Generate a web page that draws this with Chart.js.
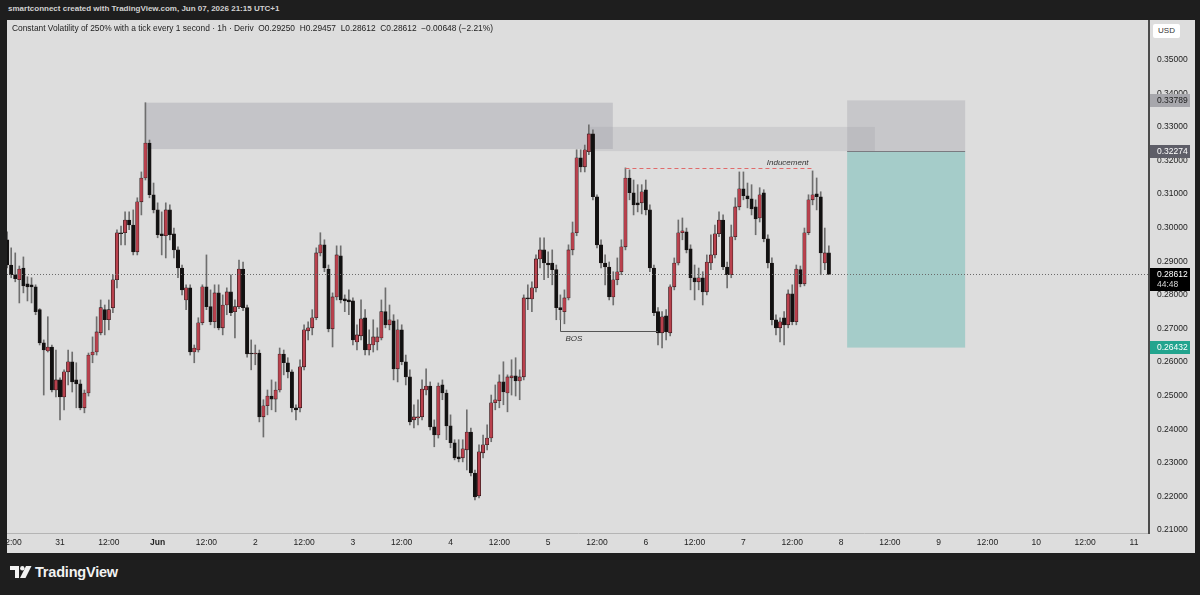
<!DOCTYPE html>
<html>
<head>
<meta charset="utf-8">
<script src="https://cdn.jsdelivr.net/npm/chart.js@4.4.1/dist/chart.umd.min.js"></script>
<style>
html, body { margin: 0; padding: 0; width: 1200px; height: 595px; overflow: hidden; background: #1e1e1e; font-family: "Liberation Sans", Arial, sans-serif; }
#top { position: absolute; left: 8px; top: 4px; color: #d2d2d2; font-size: 8px; font-weight: bold; white-space: nowrap; }
#wrap { position: absolute; left: 7px; top: 20px; width: 1188px; height: 533px; background: #dddddd; }
#legend { position: absolute; left: 12px; top: 23px; color: #222; font-size: 8.4px; white-space: nowrap; }
#usd { position: absolute; left: 1153px; top: 24px; width: 27px; height: 14px; line-height: 14px; background: #fff; color: #333; font-size: 8px; text-align: center; border-radius: 2px; }
#logo { position: absolute; left: 10px; top: 566px; }
#brand { position: absolute; left: 35px; top: 564px; color: #f2f2f2; font-size: 14.5px; font-weight: bold; letter-spacing: -0.2px; }
</style>
</head>
<body>
<div id="top">smartconnect created with TradingView.com, Jun 07, 2026 21:15 UTC+1</div>
<div id="wrap"><canvas id="chart" width="1188" height="533"></canvas></div>
<div id="legend">Constant Volatility of 250% with a tick every 1 second · 1h · Deriv&nbsp;&nbsp;O0.29250&nbsp;&nbsp;H0.29457&nbsp;&nbsp;L0.28612&nbsp;&nbsp;C0.28612&nbsp;&nbsp;−0.00648 (−2.21%)</div>
<div id="usd">USD</div>
<svg id="logo" width="24" height="14" viewBox="0 0 24 14">
  <path d="M0 0 H9 V12 H5 V4 H0 Z" fill="#f2f2f2"/>
  <circle cx="12.3" cy="2.2" r="2.2" fill="#f2f2f2"/>
  <polygon points="16,0 21.5,0 15.5,12 10,12" fill="#f2f2f2"/>
</svg>
<div id="brand">TradingView</div>
<script>
// Свечи 1h, первая свеча: 30 мая 11:00 (часы от 31 мая 00:00)
const firstHour = -13;

const openPrices = [
  0.2964,0.2889,0.2860,0.2845,0.2880,0.2833,0.2830,0.2824,0.2756,0.2657,
  0.2633,0.2645,0.2517,0.2547,0.2496,0.2571,0.2601,0.2547,0.2535,0.2464,
  0.2508,0.2621,0.2630,0.2687,0.2756,0.2726,0.2762,0.2845,0.2985,0.2985,
  0.3023,0.3008,0.2928,0.3077,0.3148,0.3252,0.3098,0.3053,0.2982,0.2976,
  0.3053,0.2982,0.2934,0.2880,0.2785,0.2821,0.2630,0.2636,0.2717,0.2824,
  0.2765,0.2720,0.2806,0.2702,0.2770,0.2809,0.2750,0.2765,0.2877,0.2762,
  0.2627,0.2624,0.2627,0.2437,0.2470,0.2499,0.2490,0.2517,0.2624,0.2598,
  0.2571,0.2464,0.2464,0.2586,0.2693,0.2702,0.2732,0.2925,0.2949,0.2877,
  0.2699,0.2794,0.2916,0.2788,0.2785,0.2782,0.2660,0.2678,0.2732,0.2636,
  0.2651,0.2660,0.2672,0.2750,0.2711,0.2723,0.2580,0.2696,0.2601,0.2556,
  0.2428,0.2434,0.2437,0.2517,0.2529,0.2407,0.2383,0.2532,0.2508,0.2410,
  0.2360,0.2318,0.2315,0.2339,0.2392,0.2270,0.2202,0.2330,0.2354,0.2374,
  0.2479,0.2485,0.2541,0.2508,0.2553,0.2559,0.2544,0.2556,0.2791,0.2788,
  0.2821,0.2907,0.2934,0.2895,0.2895,0.2875,0.2762,0.2750,0.2791,0.2934,
  0.2985,0.3208,0.3181,0.3226,0.3279,0.3092,0.2949,0.2895,0.2883,0.2794,
  0.2845,0.2869,0.2943,0.3148,0.3104,0.3074,0.3074,0.3113,0.3053,0.2880,
  0.2750,0.2687,0.2738,0.2687,0.2824,0.2895,0.2985,0.2988,0.2937,0.2851,
  0.2839,0.2851,0.2809,0.2895,0.2919,0.2982,0.3023,0.2883,0.2860,0.2973,
  0.3062,0.3116,0.3095,0.3086,0.3062,0.3029,0.3104,0.2967,0.2895,0.2726,
  0.2702,0.2732,0.2711,0.2803,0.2720,0.2875,0.2833,0.2985,0.3083,0.3101,
  0.3092,0.2895,0.2925
];
const highPrices = [
  0.2988,0.2940,0.2925,0.2886,0.2913,0.2854,0.2851,0.2830,0.2759,0.2666,
  0.2735,0.2651,0.2636,0.2553,0.2577,0.2636,0.2630,0.2598,0.2547,0.2517,
  0.2627,0.2675,0.2735,0.2785,0.2770,0.2785,0.2860,0.2994,0.3005,0.3047,
  0.3047,0.3053,0.3089,0.3166,0.3372,0.3261,0.3133,0.3074,0.3047,0.3074,
  0.3068,0.2999,0.2943,0.2889,0.2830,0.2830,0.2651,0.2732,0.2830,0.2919,
  0.2815,0.2830,0.2830,0.2800,0.2821,0.2860,0.2785,0.2904,0.2898,0.2770,
  0.2666,0.2651,0.2636,0.2488,0.2517,0.2547,0.2541,0.2642,0.2636,0.2613,
  0.2577,0.2473,0.2607,0.2711,0.2720,0.2756,0.2940,0.2985,0.2964,0.2889,
  0.2806,0.2946,0.2946,0.2800,0.2815,0.2791,0.2711,0.2785,0.2756,0.2696,
  0.2726,0.2702,0.2785,0.2821,0.2770,0.2741,0.2726,0.2711,0.2621,0.2577,
  0.2473,0.2488,0.2547,0.2580,0.2541,0.2428,0.2538,0.2547,0.2517,0.2443,
  0.2369,0.2369,0.2369,0.2458,0.2404,0.2279,0.2354,0.2383,0.2413,0.2502,
  0.2532,0.2562,0.2601,0.2562,0.2607,0.2613,0.2577,0.2800,0.2830,0.2839,
  0.2919,0.2970,0.2970,0.2928,0.2934,0.2889,0.2800,0.2815,0.2949,0.3017,
  0.3232,0.3232,0.3246,0.3306,0.3291,0.3098,0.2964,0.2919,0.2898,0.2869,
  0.2910,0.2964,0.3178,0.3172,0.3142,0.3128,0.3128,0.3142,0.3068,0.2889,
  0.2762,0.2750,0.2756,0.2830,0.2910,0.3023,0.3029,0.2999,0.2949,0.2889,
  0.2880,0.2869,0.2919,0.2979,0.3008,0.3047,0.3038,0.2898,0.3008,0.3089,
  0.3166,0.3166,0.3133,0.3128,0.3083,0.3119,0.3113,0.2979,0.2910,0.2741,
  0.2732,0.2750,0.2815,0.2830,0.2889,0.2886,0.2999,0.3098,0.3169,0.3148,
  0.3107,0.2999,0.29457
];
const lowPrices = [
  0.2880,0.2851,0.2839,0.2776,0.2806,0.2782,0.2776,0.2741,0.2651,0.2502,
  0.2630,0.2511,0.2496,0.2428,0.2458,0.2532,0.2511,0.2464,0.2458,0.2449,
  0.2499,0.2598,0.2621,0.2681,0.2681,0.2696,0.2747,0.2821,0.2949,0.2949,
  0.2994,0.2919,0.2919,0.3038,0.3142,0.3089,0.3044,0.2970,0.2919,0.2910,
  0.2964,0.2910,0.2851,0.2800,0.2756,0.2621,0.2598,0.2630,0.2711,0.2756,
  0.2711,0.2702,0.2696,0.2681,0.2741,0.2738,0.2672,0.2759,0.2753,0.2615,
  0.2577,0.2592,0.2422,0.2377,0.2443,0.2458,0.2452,0.2511,0.2562,0.2553,
  0.2452,0.2428,0.2452,0.2577,0.2666,0.2681,0.2726,0.2916,0.2869,0.2690,
  0.2645,0.2785,0.2776,0.2750,0.2741,0.2651,0.2636,0.2666,0.2621,0.2621,
  0.2630,0.2636,0.2666,0.2702,0.2696,0.2547,0.2541,0.2592,0.2532,0.2413,
  0.2404,0.2413,0.2428,0.2502,0.2398,0.2348,0.2374,0.2488,0.2369,0.2345,
  0.2309,0.2303,0.2303,0.2279,0.2261,0.2190,0.2196,0.2315,0.2339,0.2363,
  0.2458,0.2464,0.2473,0.2452,0.2502,0.2499,0.2488,0.2547,0.2756,0.2750,
  0.2809,0.2880,0.2845,0.2851,0.2830,0.2726,0.2726,0.2714,0.2785,0.2919,
  0.2976,0.3166,0.3166,0.3217,0.3083,0.2940,0.2880,0.2830,0.2785,0.2770,
  0.2830,0.2860,0.2934,0.3083,0.3038,0.3047,0.3041,0.3038,0.2869,0.2738,
  0.2651,0.2642,0.2666,0.2678,0.2815,0.2889,0.2964,0.2925,0.2815,0.2785,
  0.2815,0.2770,0.2800,0.2875,0.2910,0.2973,0.2875,0.2821,0.2851,0.2964,
  0.3053,0.3083,0.3059,0.3038,0.2979,0.3017,0.2958,0.2880,0.2711,0.2681,
  0.2660,0.2651,0.2702,0.2711,0.2711,0.2824,0.2827,0.2979,0.3068,0.3053,
  0.2860,0.2875,0.28612
];
const closePrices = [
  0.2889,0.2860,0.2848,0.2877,0.2827,0.2824,0.2824,0.2750,0.2657,0.2636,
  0.2645,0.2517,0.2547,0.2496,0.2571,0.2601,0.2541,0.2535,0.2464,0.2508,
  0.2621,0.2630,0.2690,0.2762,0.2726,0.2756,0.2845,0.2985,0.2982,0.3023,
  0.3008,0.2928,0.3077,0.3148,0.3252,0.3098,0.3053,0.2979,0.2976,0.3053,
  0.2979,0.2934,0.2880,0.2815,0.2821,0.2630,0.2642,0.2717,0.2824,0.2765,
  0.2720,0.2806,0.2702,0.2770,0.2809,0.2747,0.2765,0.2877,0.2762,0.2624,
  0.2624,0.2627,0.2437,0.2470,0.2499,0.2490,0.2517,0.2624,0.2598,0.2571,
  0.2464,0.2458,0.2586,0.2696,0.2702,0.2732,0.2925,0.2949,0.2880,0.2699,
  0.2794,0.2919,0.2785,0.2782,0.2779,0.2666,0.2681,0.2729,0.2636,0.2654,
  0.2675,0.2675,0.2750,0.2711,0.2726,0.2580,0.2696,0.2601,0.2556,0.2422,
  0.2437,0.2437,0.2520,0.2529,0.2407,0.2383,0.2529,0.2508,0.2410,0.2360,
  0.2315,0.2312,0.2342,0.2392,0.2270,0.2199,0.2333,0.2354,0.2374,0.2479,
  0.2488,0.2541,0.2511,0.2556,0.2559,0.2544,0.2556,0.2791,0.2788,0.2821,
  0.2907,0.2934,0.2895,0.2889,0.2875,0.2762,0.2756,0.2791,0.2934,0.2985,
  0.3208,0.3181,0.3232,0.3279,0.3092,0.2949,0.2895,0.2883,0.2794,0.2845,
  0.2869,0.2943,0.3148,0.3104,0.3068,0.3068,0.3107,0.3053,0.2880,0.2747,
  0.2687,0.2735,0.2690,0.2824,0.2895,0.2985,0.2991,0.2934,0.2851,0.2839,
  0.2851,0.2809,0.2898,0.2919,0.2982,0.3023,0.2883,0.2860,0.2973,0.3062,
  0.3116,0.3095,0.3086,0.3056,0.3026,0.3098,0.2967,0.2895,0.2726,0.2702,
  0.2720,0.2711,0.2803,0.2720,0.2877,0.2833,0.2985,0.3083,0.3098,0.3092,
  0.2925,0.2925,0.28612
];

// Оси
const xTickHours = [-12,0,12,24,36,48,60,72,84,96,108,120,132,144,156,168,180,192,204,216,228,240,252,264];
const xTickLabels = ['12:00','31','12:00','Jun','12:00','2','12:00','3','12:00','4','12:00','5','12:00','6','12:00','7','12:00','8','12:00','9','12:00','10','12:00','11'];
const yTickValues = [0.21,0.22,0.23,0.24,0.25,0.26,0.27,0.28,0.29,0.30,0.31,0.32,0.33,0.34,0.35];

// Разметка: зоны [часСтарт, часКонец, верх, низ]
const supplyZones = [
  [20.9, 135.9, 0.3372, 0.3234],
  [130.3, 200.3, 0.3300, 0.3228]
];
// Позиция: часы и цены стоп / вход / цель
const positionHours = [193.5, 222.5];
const positionStop = 0.33789;
const positionEntry = 0.32274;
const positionTarget = 0.26432;
const lastPrice = 0.28612;
const lastCountdown = '44:48';
// Inducement: [часСтарт, часКонец, цена]
const inducementLine = [139, 185, 0.3178];
// BOS: [часСтарт, часКонец, цена, цена начала вертикали]
const bosLine = [123, 147, 0.2693, 0.2726];

const bodies = openPrices.map((o, i) => ({ x: firstHour + i, y: [o, closePrices[i]] }));
const wicks = openPrices.map((o, i) => ({ x: firstHour + i, y: [lowPrices[i], highPrices[i]] }));
const bodyColors = openPrices.map((o, i) => closePrices[i] >= o ? '#b9414d' : '#111111');

// убираем авто-отступы шкал, чтобы область графика шла от края до края
function noPadding(scale) {
  scale.paddingLeft = 0;
  scale.paddingRight = 0;
  scale.paddingTop = 0;
  scale.paddingBottom = 0;
}

const overlayPlugin = {
  id: 'overlay',
  beforeDatasetsDraw(chart) {
    const ctx = chart.ctx, xs = chart.scales.x, ys = chart.scales.y;
    ctx.save();
    const zoneFill = ['rgba(150,150,160,0.35)', 'rgba(150,150,160,0.22)'];
    supplyZones.forEach((z, i) => {
      const x0 = xs.getPixelForValue(z[0]), x1 = xs.getPixelForValue(z[1]);
      const y0 = ys.getPixelForValue(z[2]), y1 = ys.getPixelForValue(z[3]);
      ctx.fillStyle = zoneFill[i];
      ctx.fillRect(x0, y0, x1 - x0, y1 - y0);
    });
    // позиция
    const px0 = xs.getPixelForValue(positionHours[0]), px1 = xs.getPixelForValue(positionHours[1]);
    const yStop = ys.getPixelForValue(positionStop), yEntry = ys.getPixelForValue(positionEntry), yTarget = ys.getPixelForValue(positionTarget);
    ctx.fillStyle = 'rgba(150,150,160,0.3)';
    ctx.fillRect(px0, yStop, px1 - px0, yEntry - yStop);
    ctx.fillStyle = 'rgba(38,166,154,0.3)';
    ctx.fillRect(px0, yEntry, px1 - px0, yTarget - yEntry);
    ctx.strokeStyle = '#7a7a80';
    ctx.lineWidth = 1;
    ctx.beginPath();
    ctx.moveTo(px0, Math.round(yEntry) + 0.5);
    ctx.lineTo(px1, Math.round(yEntry) + 0.5);
    ctx.stroke();
    ctx.restore();
  },
  afterDatasetsDraw(chart) {
    const ctx = chart.ctx, xs = chart.scales.x, ys = chart.scales.y, area = chart.chartArea;
    ctx.save();
    // текущая цена
    const yLast = Math.round(ys.getPixelForValue(lastPrice)) + 0.5;
    ctx.strokeStyle = '#6a6a6a';
    ctx.lineWidth = 1;
    ctx.setLineDash([1, 2]);
    ctx.beginPath();
    ctx.moveTo(area.left, yLast);
    ctx.lineTo(area.right, yLast);
    ctx.stroke();
    // inducement
    const ix0 = xs.getPixelForValue(inducementLine[0]), ix1 = xs.getPixelForValue(inducementLine[1]);
    const iy = Math.round(ys.getPixelForValue(inducementLine[2])) + 0.5;
    ctx.strokeStyle = '#e06b6b';
    ctx.setLineDash([4, 3]);
    ctx.beginPath();
    ctx.moveTo(ix0, iy);
    ctx.lineTo(ix1, iy);
    ctx.stroke();
    ctx.setLineDash([]);
    ctx.fillStyle = '#333';
    ctx.font = 'italic 8px "Liberation Sans", Arial, sans-serif';
    ctx.textAlign = 'right';
    ctx.textBaseline = 'bottom';
    ctx.fillText('Inducement', ix1 - 4, iy - 2);
    // BOS
    const bx0 = Math.round(xs.getPixelForValue(bosLine[0])) + 0.5, bx1 = xs.getPixelForValue(bosLine[1]);
    const by = Math.round(ys.getPixelForValue(bosLine[2])) + 0.5, byTop = ys.getPixelForValue(bosLine[3]);
    ctx.strokeStyle = '#555';
    ctx.beginPath();
    ctx.moveTo(bx0, byTop);
    ctx.lineTo(bx0, by);
    ctx.lineTo(bx1, by);
    ctx.stroke();
    ctx.textAlign = 'left';
    ctx.textBaseline = 'top';
    ctx.fillText('BOS', bx0 + 5, by + 3);
    ctx.restore();
  },
  afterDraw(chart) {
    const ctx = chart.ctx, ys = chart.scales.y;
    const left = ys.left + 1, w = 40;
    ctx.save();
    ctx.font = '8.5px "Liberation Sans", Arial, sans-serif';
    ctx.textAlign = 'left';
    ctx.textBaseline = 'middle';
    const boxes = [
      [positionStop, '#a7a7ac', '#1d1d1d'],
      [positionEntry, '#5e5e68', '#ffffff'],
      [positionTarget, '#22a48e', '#ffffff']
    ];
    boxes.forEach(b => {
      const y = ys.getPixelForValue(b[0]);
      ctx.fillStyle = b[1];
      ctx.fillRect(left, Math.round(y - 6.5), w, 13);
      ctx.fillStyle = b[2];
      ctx.fillText(b[0].toFixed(5), left + 7, y + 0.5);
    });
    const yl = ys.getPixelForValue(lastPrice);
    ctx.fillStyle = '#000';
    ctx.fillRect(left, Math.round(yl - 6.5), w, 23);
    ctx.fillStyle = '#fff';
    ctx.fillText(lastPrice.toFixed(5), left + 7, yl + 0.5);
    ctx.fillStyle = '#d8d8d8';
    ctx.fillText(lastCountdown, left + 7, yl + 10.5);
    ctx.restore();
  }
};

const chart = new Chart(document.getElementById('chart').getContext('2d'), {
  type: 'bar',
  data: {
    datasets: [
      {
        data: bodies,
        backgroundColor: bodyColors,
        borderColor: '#1c1414',
        borderWidth: 0.6,
        borderSkipped: false,
        barThickness: 3.4,
        minBarLength: 1,
        grouped: false,
        order: 0
      },
      {
        data: wicks,
        backgroundColor: '#6e6e6e',
        borderWidth: 0,
        barThickness: 1,
        grouped: false,
        order: 1
      }
    ]
  },
  options: {
    responsive: false,
    animation: false,
    devicePixelRatio: 1,
    layout: { padding: 0, autoPadding: false },
    plugins: { legend: { display: false }, tooltip: { enabled: false } },
    scales: {
      x: {
        type: 'linear',
        offset: false,
        min: -13.03,
        max: 267.7,
        grid: { display: false, drawTicks: false, offset: false },
        border: { display: true, color: '#b4b4b4', width: 1 },
        afterBuildTicks: scale => { scale.ticks = xTickHours.map(v => ({ value: v })); },
        afterFit: scale => { scale.height = 20; noPadding(scale); },
        ticks: {
          autoSkip: false,
          maxRotation: 0,
          padding: 5,
          color: '#222',
          font: ctx => ({ family: '"Liberation Sans", Arial, sans-serif', size: 8.5, weight: ctx.tick && ctx.tick.value === 24 ? 'bold' : 'normal' }),
          callback: value => {
            const idx = xTickHours.indexOf(value);
            return idx >= 0 ? xTickLabels[idx] : '';
          }
        }
      },
      y: {
        type: 'linear',
        position: 'right',
        min: 0.209137,
        max: 0.361815,
        grid: { display: false, drawTicks: false },
        border: { display: true, color: '#4a4a4a', width: 2 },
        afterBuildTicks: scale => { scale.ticks = yTickValues.map(v => ({ value: v })); },
        afterFit: scale => { scale.width = 46; noPadding(scale); },
        ticks: {
          padding: 8,
          color: '#222',
          font: { family: '"Liberation Sans", Arial, sans-serif', size: 8.5 },
          callback: value => value.toFixed(5)
        }
      }
    }
  },
  plugins: [overlayPlugin]
});
</script>
</body>
</html>
